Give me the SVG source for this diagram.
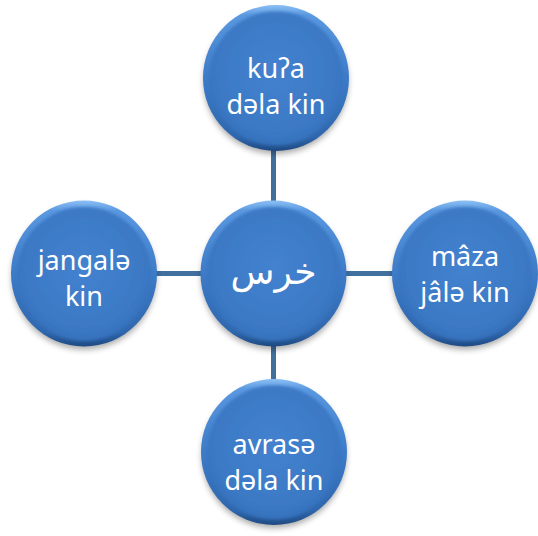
<svg xmlns="http://www.w3.org/2000/svg" width="538" height="536" viewBox="0 0 538 536">
  <defs>
    <linearGradient id="rim" x1="0" y1="0" x2="0" y2="1">
      <stop offset="0" stop-color="#8cc0f5"/>
      <stop offset="0.07" stop-color="#5a98e0"/>
      <stop offset="0.5" stop-color="#3d7bc8"/>
      <stop offset="0.9" stop-color="#2f67ae"/>
      <stop offset="1" stop-color="#1e4a82"/>
    </linearGradient>
    <radialGradient id="face" cx="0.5" cy="0.45" r="0.55">
      <stop offset="0" stop-color="#4382cf"/>
      <stop offset="0.85" stop-color="#3b78c4"/>
      <stop offset="1" stop-color="#3570bb"/>
    </radialGradient>
    <filter id="shadow" x="-20%" y="-20%" width="140%" height="150%">
      <feGaussianBlur stdDeviation="3"/>
    </filter>
    <filter id="soft" x="-10%" y="-10%" width="120%" height="120%">
      <feGaussianBlur stdDeviation="1.6"/>
    </filter>
    <g id="ball">
      <circle cx="0" cy="4" r="72" fill="#000" opacity="0.35" filter="url(#shadow)"/>
      <circle cx="0" cy="0" r="73" fill="url(#rim)"/>
      <circle cx="0" cy="0.5" r="67" fill="url(#face)" filter="url(#soft)"/>
    </g>
  </defs>
  <style>
    .lbl { font-family: "Noto Sans", "Open Sans", sans-serif; font-size: 27px; fill: #ffffff; text-anchor: middle; }
    .ar { font-family: "DejaVu Sans", sans-serif; font-size: 36px; fill: #ffffff; text-anchor: middle; }
    .conn { stroke: #41709f; stroke-width: 5; fill: none; }
  </style>
  <rect width="538" height="536" fill="#ffffff"/>
  <g id="connectors">
    <line class="conn" x1="273.5" y1="148" x2="273.5" y2="203"/>
    <line class="conn" x1="273.5" y1="344" x2="273.5" y2="384"/>
    <line class="conn" x1="154" y1="273.5" x2="203" y2="273.5"/>
    <line class="conn" x1="344" y1="273.5" x2="395" y2="273.5"/>
  </g>
  <g id="node-top">
    <use href="#ball" x="276" y="78"/>
    <text class="lbl" x="276" y="78">kuʔa</text>
    <text class="lbl" x="276" y="114">dəla kin</text>
  </g>
  <g id="node-left">
    <use href="#ball" x="84" y="273.5"/>
    <text class="lbl" x="84" y="270">jangalə</text>
    <text class="lbl" x="84" y="306">kin</text>
  </g>
  <g id="node-right">
    <use href="#ball" x="465" y="273.5"/>
    <text class="lbl" x="465" y="266">mâza</text>
    <text class="lbl" x="465" y="302">jâlə kin</text>
  </g>
  <g id="node-bottom">
    <use href="#ball" x="274" y="452"/>
    <text class="lbl" x="274" y="454">avrasə</text>
    <text class="lbl" x="274" y="490">dəla kin</text>
  </g>
  <g id="node-center">
    <use href="#ball" x="273.5" y="273.5"/>
    <text class="ar" x="273.5" y="284">خرس</text>
  </g>
</svg>
